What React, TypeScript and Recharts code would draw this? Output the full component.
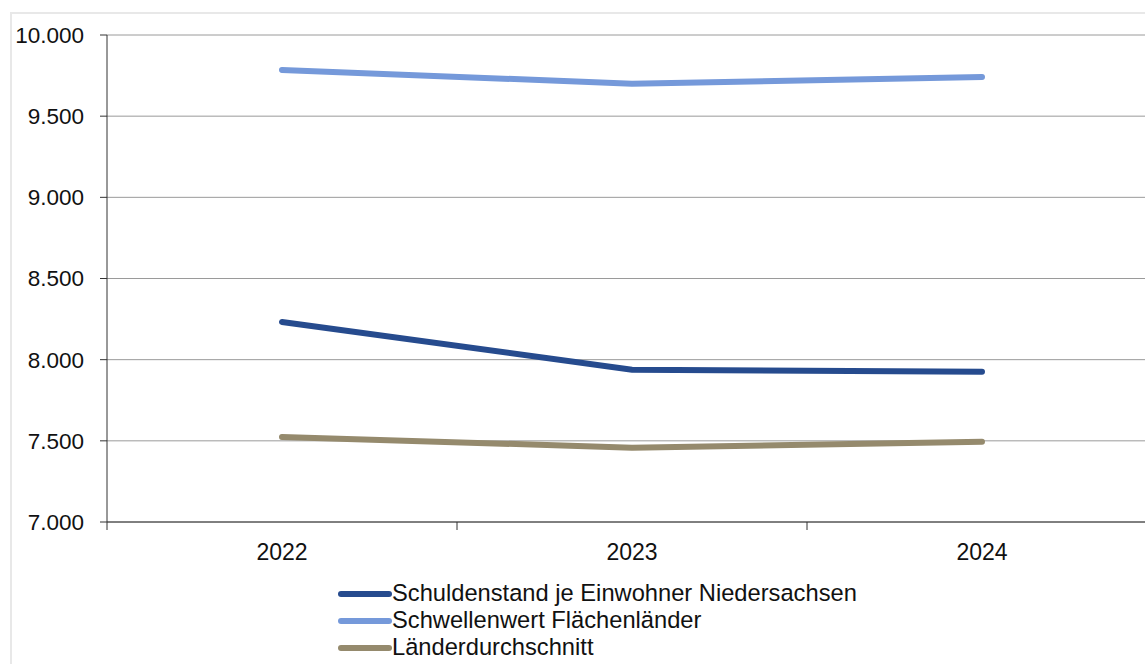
import { LineChart, Line, XAxis, YAxis, CartesianGrid, Legend } from "recharts"

const years = ["2022", "2023", "2024"]
const schuldenstand = [8232, 7938, 7925]
const schwellenwert = [9785, 9700, 9742]
const laenderschnitt = [7524, 7458, 7495]
const yTicks = [7000, 7500, 8000, 8500, 9000, 9500, 10000]

const series = [
  { key: "schuldenstand", name: "Schuldenstand je Einwohner Niedersachsen", color: "#264b8e" },
  { key: "schwellenwert", name: "Schwellenwert Flächenländer", color: "#7599da" },
  { key: "laenderschnitt", name: "Länderdurchschnitt", color: "#958a6d" },
]

const data = years.map((year, i) => ({
  year,
  schuldenstand: schuldenstand[i],
  schwellenwert: schwellenwert[i],
  laenderschnitt: laenderschnitt[i],
}))

const W = 1160
const H = 664
const LEGEND_H = 81
const M = { top: 35, right: 3, left: 0, bottom: 11 }
const Y_W = 107
const band = (W - M.left - M.right - Y_W) / years.length

const fmt = (v: number) => v.toLocaleString("de-DE")

function XTick(props: any) {
  const { x, y, payload } = props
  return (
    <g>
      <line x1={x - band / 2} x2={x - band / 2} y1={y - 8} y2={y} stroke="#333" strokeWidth={1} />
      <text x={x} y={y + 30} textAnchor="middle" fontSize={23} fill="#111">
        {payload.value}
      </text>
    </g>
  )
}

function LegendBox() {
  return (
    <div style={{ display: "flex", flexDirection: "column", height: LEGEND_H }}>
      {series.map(s => (
        <div key={s.key} style={{ display: "flex", alignItems: "center", height: 27 }}>
          <div style={{ width: 54, height: 6, borderRadius: 3, background: s.color }} />
          <span style={{ fontSize: 23.7, color: "#111", lineHeight: "27px" }}>{s.name}</span>
        </div>
      ))}
    </div>
  )
}

export default function App() {
  return (
    <div style={{ position: "absolute", left: 0, top: 0, width: 1145, height: 664, overflow: "hidden", background: "#fff", fontFamily: "'Liberation Sans', Arial, sans-serif" }}>
      <div style={{ position: "absolute", left: 10, top: 12, width: 1200, height: 700, border: "2px solid #e8e8e8", boxSizing: "border-box" }} />
      <div style={{ position: "absolute", left: 0, top: 0 }}>
        <LineChart width={W} height={H} data={data} margin={M}>
          <CartesianGrid vertical={false} stroke="#9a9a9a" strokeWidth={1} />
          <XAxis
            dataKey="year"
            stroke="#333"
            tickLine={false}
            tick={<XTick />}
            interval={0}
            height={50}
            padding={{ left: band / 2, right: band / 2 }}
          />
          <YAxis
            domain={[7000, 10000]}
            ticks={yTicks}
            width={Y_W}
            stroke="#333"
            tickSize={7}
            tickMargin={16}
            tickFormatter={fmt}
            tick={{ fontSize: 22.5, fill: "#111" }}
            interval={0}
          />
          <Legend
            content={<LegendBox />}
            layout="vertical"
            verticalAlign="bottom"
            wrapperStyle={{ left: 338, top: 580, width: 700 }}
          />
          {series.map(s => (
            <Line
              key={s.key}
              dataKey={s.key}
              name={s.name}
              stroke={s.color}
              strokeWidth={6}
              strokeLinecap="round"
              dot={false}
              activeDot={false}
              isAnimationActive={false}
            />
          ))}
        </LineChart>
      </div>
    </div>
  )
}
